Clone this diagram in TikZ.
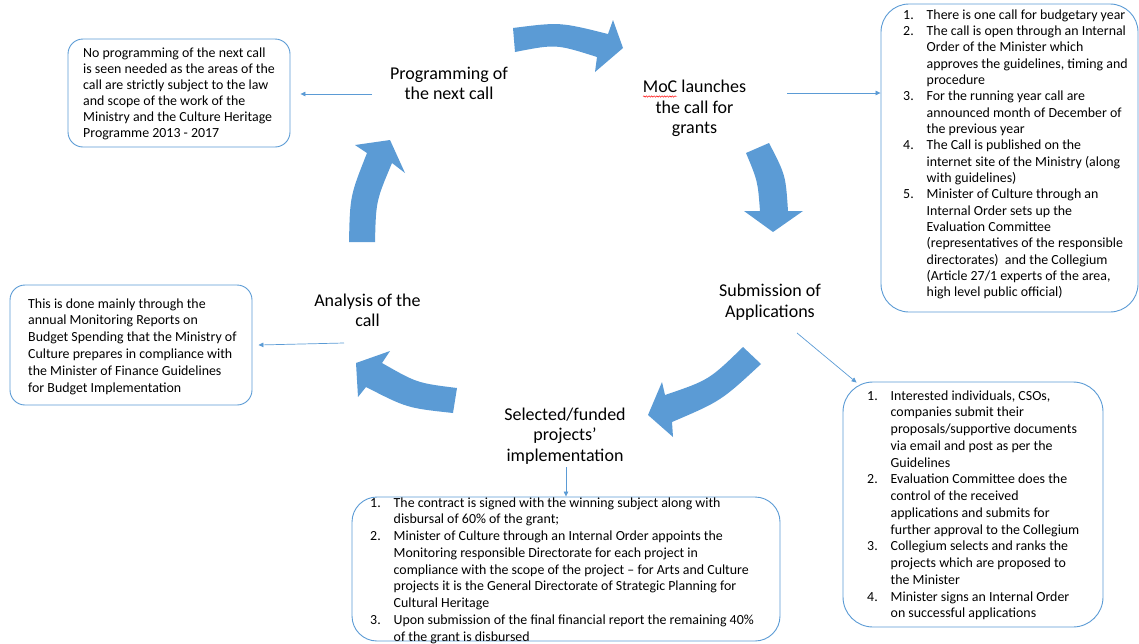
\documentclass[tikz,border=0pt]{standalone}
\usepackage{fontspec}
\setmainfont{Carlito}
\usetikzlibrary{arrows.meta,calc,decorations.pathmorphing}
\definecolor{accent}{HTML}{5B9BD5}
\newcommand\itm[1]{\makebox[23.5pt][l]{#1}}
\newcommand\cnt{\hspace*{23.5pt}}
\begin{document}
\begin{tikzpicture}[x=1pt,y=-1pt,
  box/.style={draw=accent, line width=0.9pt, rounded corners=#1, fill=white, inner sep=0pt},
  box/.default=15pt,
  lab/.style={font=\fontsize{18}{20.7}\selectfont, inner sep=0pt, anchor=base},
  txt/.style={font=\fontsize{13.9}{#1}\selectfont, inner sep=0pt, anchor=base west},
  txt/.default=16.4pt,
  conn/.style={draw=accent, line width=0.7pt, -{Triangle[length=5pt,width=4.5pt]}},
  bigarrow/.style={fill=accent, draw=none}]
\useasboundingbox (0,0) rectangle (1139,643);

% boxes
\node[box=15pt, minimum width=222pt, minimum height=108pt] (tlbox) at (179,93) {};
\node[box=28pt, minimum width=257pt, minimum height=308pt] (trbox) at (1009.5,158) {};
\node[box=15pt, minimum width=242pt, minimum height=120pt] (lfbox) at (131,345) {};
\node[box=25pt, minimum width=428pt, minimum height=144pt] (bcbox) at (566,569) {};
\node[box=30pt, minimum width=260pt, minimum height=245pt] (brbox) at (973,504.5) {};

% box texts
\node[txt=16pt] (tltext) at (83,57) {\begin{tabular}[t]{@{}l@{}}
No programming of the next call\\
is seen needed as the areas of the\\
call are strictly subject to the law\\
and scope of the work of the\\
Ministry and the Culture Heritage\\
Programme 2013 - 2017
\end{tabular}};

\node[txt=16.35pt] (trtext) at (903,19) {\begin{tabular}[t]{@{}l@{}}
\itm{1.}There is one call for budgetary year\\
\itm{2.}The call is open through an Internal\\
\cnt Order of the Minister which\\
\cnt approves the guidelines, timing and\\
\cnt procedure\\
\itm{3.}For the running year call are\\
\cnt announced month of December of\\
\cnt the previous year\\
\itm{4.}The Call is published on the\\
\cnt internet site of the Ministry (along\\
\cnt with guidelines)\\
\itm{5.}Minister of Culture through an\\
\cnt Internal Order sets up the\\
\cnt Evaluation Committee\\
\cnt (representatives of the responsible\\
\cnt directorates)\ \ and the Collegium\\
\cnt (Article 27/1 experts of the area,\\
\cnt high level public official)
\end{tabular}};

\node[txt=16.9pt] (lftext) at (28,308) {\begin{tabular}[t]{@{}l@{}}
This is done mainly through the\\
annual Monitoring Reports on\\
Budget Spending that the Ministry of\\
Culture prepares in compliance with\\
the Minister of Finance Guidelines\\
for Budget Implementation
\end{tabular}};

\node[txt=16.75pt] (bctext) at (370,507) {\begin{tabular}[t]{@{}l@{}}
\itm{1.}The contract is signed with the winning subject along with\\
\cnt disbursal of 60\% of the grant;\\
\itm{2.}Minister of Culture through an Internal Order appoints the\\
\cnt Monitoring responsible Directorate for each project in\\
\cnt compliance with the scope of the project -- for Arts and Culture\\
\cnt projects it is the General Directorate of Strategic Planning for\\
\cnt Cultural Heritage\\
\itm{3.}Upon submission of the final financial report the remaining 40\%\\
\cnt of the grant is disbursed
\end{tabular}};

\node[txt=16.75pt] (brtext) at (867,400) {\begin{tabular}[t]{@{}l@{}}
\itm{1.}Interested individuals, CSOs,\\
\cnt companies submit their\\
\cnt proposals/supportive documents\\
\cnt via email and post as per the\\
\cnt Guidelines\\
\itm{2.}Evaluation Committee does the\\
\cnt control of the received\\
\cnt applications and submits for\\
\cnt further approval to the Collegium\\
\itm{3.}Collegium selects and ranks the\\
\cnt projects which are proposed to\\
\cnt the Minister\\
\itm{4.}Minister signs an Internal Order\\
\cnt on successful applications
\end{tabular}};

% cycle labels
\node[lab] (prog) at (449,79) {\begin{tabular}[t]{@{}c@{}}Programming of\\the next call\end{tabular}};
\node[lab] (moc) at (694.5,92.3) {\begin{tabular}[t]{@{}c@{}}MoC launches\\the call for\\grants\end{tabular}};
\node[lab] (subm) at (770,296.5) {\begin{tabular}[t]{@{}c@{}}Submission of\\Applications\end{tabular}};
\node[lab] (sel) at (565,420) {\begin{tabular}[t]{@{}c@{}}Selected/funded\\projects’\\implementation\end{tabular}};
\node[lab] (anal) at (367.5,306) {\begin{tabular}[t]{@{}c@{}}Analysis of the\\call\end{tabular}};

% spell-check underline
\draw[red, line width=0.45pt, decorate, decoration={snake, amplitude=0.7pt, segment length=2.6pt}] (643,96.5) -- (677,96.5);

% big cycle arrows
\fill[bigarrow] (513,28) .. controls (560,22) .. (608,34) -- (613,20) -- (623,48) -- (595,72) -- (597,57) .. controls (556,44) .. (515,52) -- cycle;
\fill[bigarrow] (746,153) -- (769,143) .. controls (785.6,175) .. (788,211) -- (803,211) -- (773,232) -- (744,211) -- (760,211) .. controls (757.7,181) .. (746,153) -- cycle;
\fill[bigarrow] (743,347) -- (761,364) .. controls (721,401) .. (672,422) -- (673,437) -- (648,415) -- (662,382) -- (665,395) .. controls (709,380) .. (743,347) -- cycle;
\fill[bigarrow] (457,388) -- (453,413) .. controls (407,408) .. (366,387) -- (358,397) -- (356,363) -- (390,351) -- (382,363) .. controls (417,383) .. (457,388) -- cycle;
\fill[bigarrow] (349,242) .. controls (350,196) .. (367,153) -- (355,145) -- (390,140) -- (405,173) -- (392,163) .. controls (376,201) .. (375,242) -- cycle;

% connectors
\coordinate (c1) at (372,94);
\coordinate (c2) at (787,93);
\coordinate (c3) at (344,343);
\coordinate (c4) at (797,333);
\coordinate (c5) at (566,467);
\draw[conn, shorten >=10pt] (c1) -- (tlbox.east |- c1);
\draw[conn] (c2) -- (trbox.west |- c2);
\draw[conn] (c3) -- ($(lfbox.east)+(6,0)$);
\draw[conn] (c4) -- ($(brbox.north west)+(14,1)$);
\draw[conn] (c5) -- (c5 |- bcbox.north);
\end{tikzpicture}
\end{document}
